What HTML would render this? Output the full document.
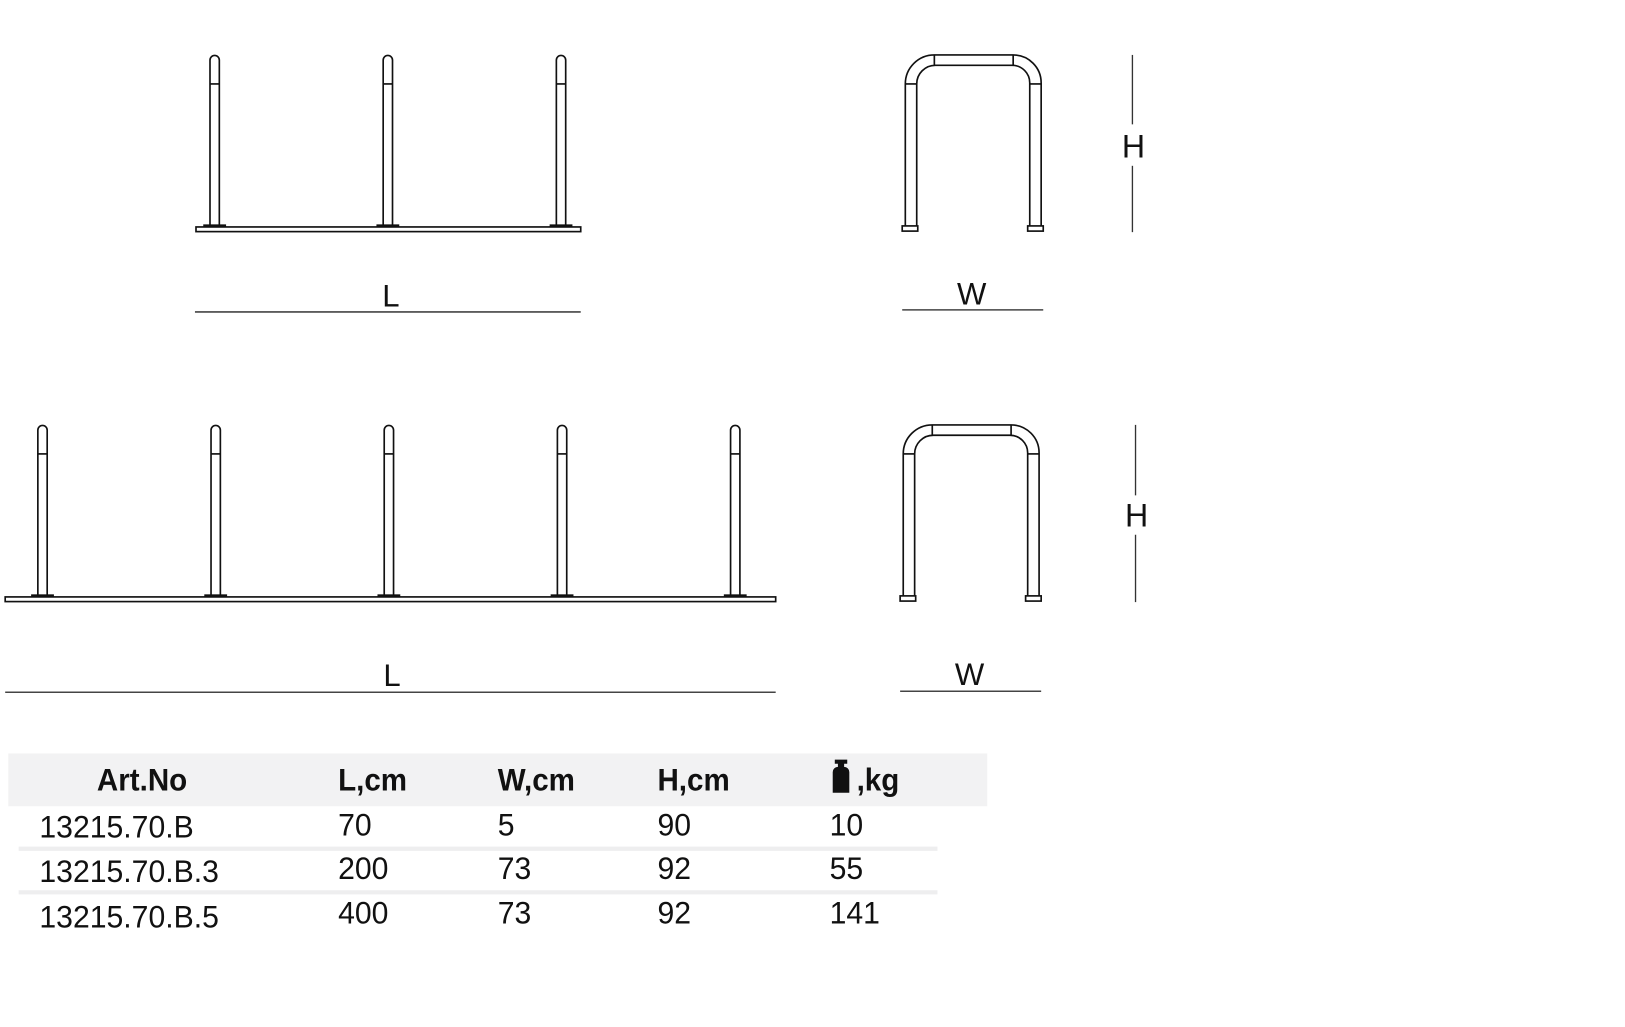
<!DOCTYPE html>
<html><head><style>html,body{margin:0;padding:0;background:#fff}svg{display:block}</style></head>
<body>
<svg width="1625" height="1027" viewBox="0 0 1567 991" preserveAspectRatio="none" xmlns="http://www.w3.org/2000/svg">
<defs>
<g id="post1" fill="#fff" stroke="#111" stroke-width="1.6">
<path d="M-4.5,218 L-4.5,58 A4.5,4.5 0 0 1 4.5,58 L4.5,218 Z"/>
<line x1="-4.5" y1="81" x2="4.5" y2="81"/>
</g>
</defs>
<g font-family="Liberation Sans, sans-serif" fill="#111">
<g fill="#fff" stroke="#111" stroke-width="1.6">
<rect x="189" y="219" width="371" height="4.5"/>
</g>
<use href="#post1" x="207"/><use href="#post1" x="374"/><use href="#post1" x="541"/>
<rect x="196" y="216.5" width="22" height="3" fill="#111"/>
<rect x="363" y="216.5" width="22" height="3" fill="#111"/>
<rect x="530" y="216.5" width="22" height="3" fill="#111"/>
<text x="377" y="296" font-size="30" text-anchor="middle">L</text>
<line x1="188" y1="301" x2="560" y2="301" stroke="#444" stroke-width="1.5"/>
<g fill="none" stroke="#111" stroke-width="1.6">
<path d="M873,218 L873,81 A28,28 0 0 1 901,53 L977,53 A27,27 0 0 1 1004,80 L1004,218"/>
<path d="M884,218 L884,81 A18,18 0 0 1 902,63 L976,63 A17,17 0 0 1 993,80 L993,218"/>
<line x1="873" y1="81" x2="884" y2="81"/><line x1="993" y1="81" x2="1004" y2="81"/>
<line x1="901" y1="53" x2="901" y2="63"/><line x1="977" y1="53" x2="977" y2="63"/>
<rect x="870" y="218" width="15" height="5" fill="#fff"/><rect x="991" y="218" width="15" height="5" fill="#fff"/>
</g>
<line x1="1092" y1="53" x2="1092" y2="120" stroke="#333" stroke-width="1.3"/>
<line x1="1092" y1="160" x2="1092" y2="224" stroke="#333" stroke-width="1.3"/>
<text x="1093" y="152" font-size="31" text-anchor="middle">H</text>
<text x="937" y="294" font-size="30" text-anchor="middle">W</text>
<line x1="870" y1="299" x2="1006" y2="299" stroke="#444" stroke-width="1.5"/>
<rect x="5" y="576" width="743" height="4.5" fill="#fff" stroke="#111" stroke-width="1.6"/>
<g transform="translate(0,357)">
<use href="#post1" x="41"/><use href="#post1" x="208"/><use href="#post1" x="375"/><use href="#post1" x="542"/><use href="#post1" x="709"/>
</g>
<rect x="30" y="573.5" width="22" height="3" fill="#111"/>
<rect x="197" y="573.5" width="22" height="3" fill="#111"/>
<rect x="364" y="573.5" width="22" height="3" fill="#111"/>
<rect x="531" y="573.5" width="22" height="3" fill="#111"/>
<rect x="698" y="573.5" width="22" height="3" fill="#111"/>
<text x="378" y="662" font-size="30" text-anchor="middle">L</text>
<line x1="5" y1="668" x2="748" y2="668" stroke="#444" stroke-width="1.5"/>
<g fill="none" stroke="#111" stroke-width="1.6" transform="translate(-2,357)">
<path d="M873,218 L873,81 A28,28 0 0 1 901,53 L977,53 A27,27 0 0 1 1004,80 L1004,218"/>
<path d="M884,218 L884,81 A18,18 0 0 1 902,63 L976,63 A17,17 0 0 1 993,80 L993,218"/>
<line x1="873" y1="81" x2="884" y2="81"/><line x1="993" y1="81" x2="1004" y2="81"/>
<line x1="901" y1="53" x2="901" y2="63"/><line x1="977" y1="53" x2="977" y2="63"/>
<rect x="870" y="218" width="15" height="5" fill="#fff"/><rect x="991" y="218" width="15" height="5" fill="#fff"/>
</g>
<line x1="1095" y1="410" x2="1095" y2="478" stroke="#333" stroke-width="1.3"/>
<line x1="1095" y1="516" x2="1095" y2="581" stroke="#333" stroke-width="1.3"/>
<text x="1096" y="508" font-size="31" text-anchor="middle">H</text>
<text x="935" y="661" font-size="30" text-anchor="middle">W</text>
<line x1="868" y1="667" x2="1004" y2="667" stroke="#444" stroke-width="1.5"/>
<rect x="8" y="727" width="944" height="51" fill="#f2f2f3"/>
<g font-size="30" font-weight="bold">
<text transform="translate(137,763) scale(0.95,1)" text-anchor="middle">Art.No</text>
<text transform="translate(326,763) scale(0.95,1)">L,cm</text>
<text transform="translate(480,763) scale(0.95,1)">W,cm</text>
<text transform="translate(634,763) scale(0.95,1)">H,cm</text>
<text transform="translate(826,763) scale(0.95,1)">,kg</text>
</g>
<path d="M805,733 h12 v4 h-3 v3 a5,5 0 0 1 5,5 v20 h-16 v-20 a5,5 0 0 1 5,-5 v-3 h-3 z" fill="#111"/>
<line x1="18" y1="819" x2="904" y2="819" stroke="#eeeeef" stroke-width="4"/>
<line x1="18" y1="861" x2="904" y2="861" stroke="#eeeeef" stroke-width="4"/>
<g font-size="30">
<text transform="translate(38,808) scale(0.97,1)">13215.70.B</text>
<text transform="translate(326,806) scale(0.97,1)">70</text>
<text transform="translate(480,806) scale(0.97,1)">5</text>
<text transform="translate(634,806) scale(0.97,1)">90</text>
<text transform="translate(800,806) scale(0.97,1)">10</text>
<text transform="translate(38,851) scale(0.97,1)">13215.70.B.3</text>
<text transform="translate(326,848) scale(0.97,1)">200</text>
<text transform="translate(480,848) scale(0.97,1)">73</text>
<text transform="translate(634,848) scale(0.97,1)">92</text>
<text transform="translate(800,848) scale(0.97,1)">55</text>
<text transform="translate(38,895) scale(0.97,1)">13215.70.B.5</text>
<text transform="translate(326,891) scale(0.97,1)">400</text>
<text transform="translate(480,891) scale(0.97,1)">73</text>
<text transform="translate(634,891) scale(0.97,1)">92</text>
<text transform="translate(800,891) scale(0.97,1)">141</text>
</g>
</g>
</svg>
</body></html>
